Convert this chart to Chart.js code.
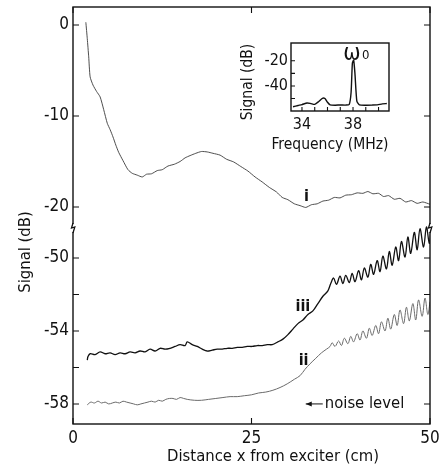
<!DOCTYPE html>
<html>
<head>
<meta charset="utf-8">
<script src="https://cdn.jsdelivr.net/npm/chart.js@4.4.0/dist/chart.umd.min.js"></script>
<style>
  body { margin: 0; background: #fff; }
  #wrap { position: relative; width: 440px; height: 472px; }
  #chart { position: absolute; left: 0; top: 0; }
  #inset { position: absolute; left: 225px; top: 35px; }
</style>
</head>
<body>
<div id="wrap">
  <canvas id="chart" width="440" height="472"></canvas>
  <canvas id="inset" width="175" height="125"></canvas>
</div>
<script>
// distance from exciter (cm) and signal (dB) for each trace
const curveIX = [1.8, 2.0, 2.2, 2.4, 2.8, 3.3, 3.8, 4.3, 4.8, 5.2, 5.6, 6.0, 6.4, 7.0, 7.7, 8.3, 9.0, 9.7, 10.3, 11.0,
    11.8, 12.5, 13.3, 14.2, 15.0, 15.7, 16.4, 17.2, 18.0, 18.8, 19.6, 20.6, 21.5, 22.5, 23.5, 24.5, 25.5, 26.5, 27.5, 28.5,
    29.3, 30.1, 31.0, 31.8, 32.6, 33.4, 34.2, 35.0, 35.8, 36.6, 37.4, 38.2, 39.0, 39.8, 40.6, 41.3, 42.0, 42.8, 43.5, 44.2,
    45.0, 45.8, 46.6, 47.4, 48.2, 49.0, 50.0];
const curveIY = [0.3, -1.5, -3.5, -5.7, -6.6, -7.3, -7.9, -9.3, -10.8, -11.5, -12.3, -13.2, -14.0, -14.9, -15.9, -16.3, -16.5, -16.7, -16.4, -16.35,
    -16.0, -15.9, -15.5, -15.3, -15.0, -14.6, -14.35, -14.1, -13.9, -13.95, -14.1, -14.3, -14.75, -15.05, -15.55, -16.05, -16.7, -17.25, -17.85, -18.35,
    -18.95, -19.2, -19.65, -19.85, -20.05, -19.75, -19.65, -19.35, -19.25, -18.95, -19.0, -18.7, -18.65, -18.45, -18.5, -18.3, -18.55, -18.5, -18.85, -18.75,
    -19.15, -19.05, -19.45, -19.3, -19.6, -19.45, -19.7];

const curveIIIX = [2.0, 2.1, 2.4, 3.1, 3.8, 4.5, 5.2, 5.9, 6.6, 7.3, 8.0, 8.7, 9.4, 10.1, 10.8, 11.5, 12.2, 12.9, 13.6, 14.3,
    15.0, 15.7, 16.0, 16.7, 17.4, 18.1, 18.8, 19.5, 20.2, 20.9, 21.6, 22.3, 23.0, 23.7, 24.4, 25.1, 25.8, 26.5, 27.2, 27.9,
    28.7, 29.4, 30.1, 30.8, 31.5, 32.2, 32.9, 33.6, 34.3, 35.0, 35.7, 36.1,
    36.5, 36.9, 37.4, 37.8, 38.2, 38.7, 39.1, 39.5, 40.0, 40.4, 40.8, 41.3, 41.7, 42.1, 42.6, 43.0, 43.4, 43.9, 44.3, 44.7,
    45.2, 45.6, 46.0, 46.5, 46.9, 47.3, 47.8, 48.2, 48.6, 49.1, 49.5, 49.9, 50.1];
const curveIIIY = [-55.6, -55.4, -55.25, -55.3, -55.15, -55.25, -55.2, -55.3, -55.2, -55.25, -55.15, -55.2, -55.1, -55.15, -55.0, -55.1, -54.95, -55.0, -54.95, -54.85,
    -54.75, -54.8, -54.6, -54.75, -54.85, -55.0, -55.1, -55.05, -55.0, -55.0, -54.95, -54.95, -54.9, -54.9, -54.85, -54.85, -54.8, -54.8, -54.75, -54.75,
    -54.6, -54.45, -54.2, -53.9, -53.6, -53.4, -53.1, -52.9, -52.5, -52.1, -51.8, -51.4,
    -51.1, -51.45, -51.0, -51.4, -50.95, -51.35, -50.85, -51.3, -50.7, -51.2, -50.55, -51.05, -50.35, -50.9, -50.15, -50.75, -49.9, -50.6, -49.65, -50.4,
    -49.4, -50.15, -49.1, -49.95, -48.85, -49.75, -48.6, -49.55, -48.4, -49.4, -48.3, -49.2, -48.6];

const curveIIX = [2.0, 2.5, 3.0, 3.5, 4.0, 4.5, 5.0, 5.5, 6.0, 6.5, 7.0, 7.5, 8.0, 8.5, 9.0, 9.5, 10.0, 10.5, 11.0, 11.5,
    12.0, 12.5, 13.0, 13.5, 14.0, 14.5, 15.0, 15.5, 16.0, 17.0, 18.0, 19.0, 20.0, 21.0, 22.0, 23.0, 24.0, 25.0, 26.0, 27.0,
    28.0, 29.0, 30.0, 31.0, 31.8, 32.5, 33.2, 34.0, 34.8, 35.5, 36.0,
    36.3, 36.7, 37.2, 37.6, 38.0, 38.5, 38.9, 39.3, 39.8, 40.2, 40.6, 41.1, 41.5, 41.9, 42.4, 42.8, 43.2, 43.7, 44.1, 44.5,
    45.0, 45.4, 45.8, 46.3, 46.7, 47.1, 47.6, 48.0, 48.4, 48.9, 49.3, 49.7, 50.0];
const curveIIY = [-58.05, -57.9, -57.95, -57.85, -57.95, -57.9, -58.0, -57.95, -57.9, -57.95, -57.85, -57.9, -57.95, -58.0, -58.05, -58.0, -57.95, -57.9, -57.85, -57.9,
    -57.8, -57.85, -57.75, -57.7, -57.7, -57.75, -57.65, -57.7, -57.75, -57.8, -57.8, -57.75, -57.7, -57.65, -57.6, -57.6, -57.55, -57.5, -57.4, -57.35,
    -57.25, -57.1, -56.9, -56.65, -56.45, -56.1, -55.8, -55.5, -55.2, -55.0, -54.85,
    -54.65, -54.85, -54.55, -54.8, -54.4, -54.7, -54.3, -54.6, -54.15, -54.5, -54.0, -54.4, -53.85, -54.25, -53.7, -54.15, -53.5, -54.0, -53.3, -53.9,
    -53.1, -53.7, -52.85, -53.6, -52.7, -53.45, -52.5, -53.4, -52.3, -53.2, -52.2, -53.1, -52.4];

// inset spectrum
const freqMHz = [33.3, 33.7, 34.0, 34.4, 34.7, 35.0, 35.3, 35.6, 35.8, 36.0, 36.2, 36.6, 37.0, 37.4, 37.7, 37.85, 37.95, 38.05, 38.15, 38.3, 38.5, 39.0, 39.5, 39.9, 40.3, 40.65];
const spectrumDb = [-56.5, -55.5, -54.8, -53.5, -54.0, -54.6, -52.5, -49.8, -50.0, -53.0, -55.0, -55.3, -55.1, -55.2, -54.8, -45, -22, -19.6, -30, -52, -55.0, -55.3, -55.2, -55.0, -54.2, -54.0];

// tick values
const xTicks = [0, 25, 50];
const upperTicks = [0, -10, -20];
const lowerTicks = [-50, -52, -54, -56, -58];
const lowerLabels = [-50, -54, -58];
const insetXTicks = [34, 35, 36, 37, 38, 39, 40];
const insetXLabels = [34, 38];
const insetYTicks = [-20, -30, -40, -50];
const insetYLabels = [-20, -40];

const FONT = '"DejaVu Sans Condensed", "Liberation Sans Narrow", "DejaVu Sans", sans-serif';
const INK = '#111';

const toXY = (xs, ys) => xs.map((x, i) => ({ x: x, y: ys[i] }));
const setTicks = vals => scale => { scale.ticks = vals.map(v => ({ value: v })); };
// fixed axis sizes, no extra room for half labels
const fixWidth = w => s => { s.width = w; s.paddingTop = 0; s.paddingBottom = 0; };
const fixHeight = h => s => { s.height = h; s.paddingLeft = 0; s.paddingRight = 0; };

// box round the plot and tick marks pointing inwards
const framePlugin = {
    id: 'frame',
    afterDraw(chart, args, opts) {
        const { ctx, chartArea: a, scales } = chart;
        const len = opts.tickLength || 6;
        ctx.save();
        ctx.strokeStyle = INK;
        ctx.lineWidth = 1.4;
        ctx.strokeRect(a.left, a.top, a.right - a.left, a.bottom - a.top);
        ctx.lineWidth = 1.1;
        ctx.beginPath();
        Object.values(scales).forEach(s => {
            s.ticks.forEach(t => {
                const p = s.getPixelForValue(t.value);
                if (s.isHorizontal()) {
                    ctx.moveTo(p, a.bottom); ctx.lineTo(p, a.bottom - len);
                    if (opts.mirror) { ctx.moveTo(p, a.top); ctx.lineTo(p, a.top + len); }
                } else {
                    ctx.moveTo(a.left, p); ctx.lineTo(a.left + len, p);
                    if (opts.mirror) { ctx.moveTo(a.right, p); ctx.lineTo(a.right - len, p); }
                }
            });
        });
        ctx.stroke();
        ctx.restore();
    }
};

function breakMark(ctx, x, y) {
    ctx.fillStyle = '#fff';
    ctx.fillRect(x - 2, y - 4, 4, 8);
    ctx.beginPath();
    ctx.moveTo(x, y - 5);
    ctx.lineTo(x - 1.5, y);
    ctx.lineTo(x + 1.8, y - 1);
    ctx.lineTo(x, y + 5);
    ctx.stroke();
}

// axis titles, curve labels and the axis break
const mainText = {
    id: 'mainText',
    afterDraw(chart) {
        const { ctx, chartArea: a, scales } = chart;
        const x = scales.x, yTop = scales.yTop, yLow = scales.yLow;
        ctx.save();
        ctx.strokeStyle = INK;
        ctx.lineWidth = 1.3;
        const yb = yLow.getPixelForValue(yLow.max) + 6;
        breakMark(ctx, a.left, yb);
        breakMark(ctx, a.right, yb);

        ctx.fillStyle = INK;
        ctx.textAlign = 'center';
        ctx.textBaseline = 'middle';
        ctx.font = '16.5px ' + FONT;
        ctx.fillText('Distance x from exciter (cm)', 273, 457);
        ctx.save();
        ctx.translate(26, 252);
        ctx.rotate(-Math.PI / 2);
        ctx.fillText('Signal (dB)', 0, 0);
        ctx.restore();

        ctx.font = 'bold 16px ' + FONT;
        ctx.fillText('i', x.getPixelForValue(32.7), yTop.getPixelForValue(-18.9));
        ctx.fillText('iii', x.getPixelForValue(32.2), yLow.getPixelForValue(-52.7));
        ctx.fillText('ii', x.getPixelForValue(32.3), yLow.getPixelForValue(-55.65));

        ctx.font = '16.5px ' + FONT;
        ctx.textAlign = 'left';
        const nx = x.getPixelForValue(32.6), ny = yLow.getPixelForValue(-58.0);
        ctx.lineWidth = 1;
        ctx.beginPath();
        ctx.moveTo(nx, ny); ctx.lineTo(nx + 17, ny);
        ctx.stroke();
        ctx.beginPath();
        ctx.moveTo(nx, ny); ctx.lineTo(nx + 6, ny - 2.5); ctx.lineTo(nx + 6, ny + 2.5); ctx.closePath();
        ctx.fill();
        ctx.fillText('noise level', nx + 19, ny);
        ctx.restore();
    }
};

const lineStyle = (color, width, tension) => ({
    borderColor: color, borderWidth: width, pointRadius: 0, tension: tension || 0, fill: false, borderJoinStyle: 'round'
});

new Chart(document.getElementById('chart'), {
    type: 'line',
    data: {
        datasets: [
            Object.assign({ label: 'i', data: toXY(curveIX, curveIY), yAxisID: 'yTop' }, lineStyle('#3a3a3a', 0.9, 0.2)),
            Object.assign({ label: 'ii', data: toXY(curveIIX, curveIIY), yAxisID: 'yLow' }, lineStyle('#6a6a6a', 1, 0.35)),
            Object.assign({ label: 'iii', data: toXY(curveIIIX, curveIIIY), yAxisID: 'yLow' }, lineStyle('#111', 1.3, 0.35))
        ]
    },
    options: {
        responsive: false,
        animation: false,
        layout: { padding: { top: 7, right: 10, left: 0, bottom: 0 } },
        plugins: { legend: { display: false }, tooltip: { enabled: false }, frame: { mirror: true, tickLength: 6 } },
        scales: {
            x: {
                type: 'linear', min: 0, max: 50,
                afterBuildTicks: setTicks(xTicks),
                afterFit: fixHeight(48),
                grid: { display: false, drawTicks: false },
                border: { display: false },
                ticks: { color: INK, font: { family: FONT, size: 17 }, padding: 4, maxRotation: 0, callback: v => String(v) }
            },
            // stacked axes: the first one listed ends up at the bottom
            yLow: {
                type: 'linear', position: 'left', stack: 'signal', stackWeight: 202,
                min: -59.1, max: -48.03,
                afterBuildTicks: setTicks(lowerTicks),
                afterFit: fixWidth(73),
                grid: { display: false, drawTicks: false },
                border: { display: false },
                ticks: { color: INK, font: { family: FONT, size: 17 }, padding: 4,
                    callback: v => lowerLabels.includes(v) ? String(v) : '' }
            },
            yTop: {
                type: 'linear', position: 'left', stack: 'signal', stackWeight: 215,
                min: -21.65, max: 1.98,
                afterBuildTicks: setTicks(upperTicks),
                afterFit: fixWidth(73),
                grid: { display: false, drawTicks: false },
                border: { display: false },
                ticks: { color: INK, font: { family: FONT, size: 17 }, padding: 4, callback: v => String(v) }
            }
        }
    },
    plugins: [framePlugin, mainText]
});

// inset: spectrum around the exciter frequency
const insetText = {
    id: 'insetText',
    afterDraw(chart) {
        const { ctx, scales } = chart;
        ctx.save();
        ctx.fillStyle = INK;
        ctx.textBaseline = 'alphabetic';
        ctx.textAlign = 'center';
        ctx.font = '15.5px ' + FONT;
        ctx.fillText('Frequency (MHz)', 105, 114);
        ctx.save();
        ctx.translate(23, 47);
        ctx.rotate(-Math.PI / 2);
        ctx.textBaseline = 'middle';
        ctx.fillText('Signal (dB)', 0, 0);
        ctx.restore();
        const px = scales.x.getPixelForValue(38.0), py = scales.y.getPixelForValue(-19.6);
        ctx.font = '23px ' + FONT;
        ctx.fillText('\u03c9', px - 1, py);
        ctx.font = '13px ' + FONT;
        ctx.textAlign = 'left';
        ctx.fillText('0', px + 9, py - 1);
        ctx.restore();
    }
};

new Chart(document.getElementById('inset'), {
    type: 'line',
    data: {
        datasets: [Object.assign({ label: 'spectrum', data: toXY(freqMHz, spectrumDb) }, lineStyle('#111', 1.4, 0.2))]
    },
    options: {
        responsive: false,
        animation: false,
        layout: { padding: { top: 8, right: 11, left: 0, bottom: 0 } },
        plugins: { legend: { display: false }, tooltip: { enabled: false }, frame: { mirror: false, tickLength: 4 } },
        scales: {
            x: {
                type: 'linear', min: 33.14, max: 40.82,
                afterBuildTicks: setTicks(insetXTicks),
                afterFit: fixHeight(49),
                grid: { display: false, drawTicks: false },
                border: { display: false },
                ticks: { color: INK, font: { family: FONT, size: 16 }, padding: 4, maxRotation: 0, autoSkip: false,
                    callback: v => insetXLabels.includes(v) ? String(v) : '' }
            },
            y: {
                type: 'linear', min: -59.9, max: -5.9,
                afterBuildTicks: setTicks(insetYTicks),
                afterFit: fixWidth(66),
                grid: { display: false, drawTicks: false },
                border: { display: false },
                ticks: { color: INK, font: { family: FONT, size: 16 }, padding: 3,
                    callback: v => insetYLabels.includes(v) ? String(v) : '' }
            }
        }
    },
    plugins: [framePlugin, insetText]
});
</script>
</body>
</html>
